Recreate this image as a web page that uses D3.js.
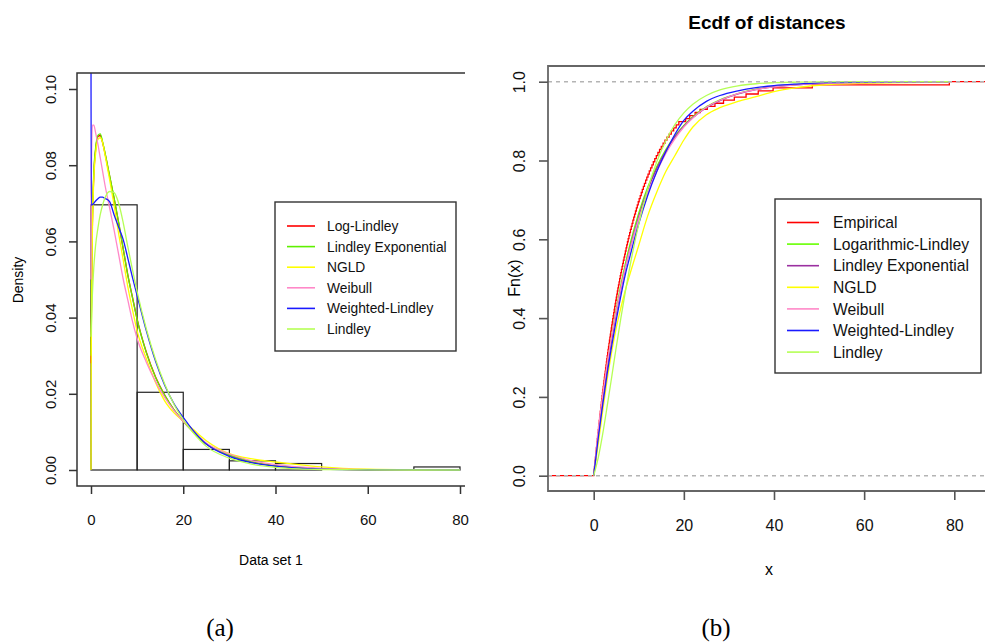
<!DOCTYPE html>
<html>
<head>
<meta charset="utf-8">
<script src="https://cdn.jsdelivr.net/npm/d3@7/dist/d3.min.js"></script>
<style>
    body {margin: 0; background: #fff;}
    svg {display: block; font-family: "Liberation Sans", Arial, sans-serif;}
</style>
</head>
<body>
<svg id="js-chart" width="985" height="642"></svg>
<script>
// ---------- 数据 (a) 直方图 ----------
var histBreaks = [0, 10, 20, 30, 40, 50, 60, 70, 80];
var histDensity = [0.0696, 0.0204, 0.0054, 0.0024, 0.0017, 0, 0, 0.0008];

// 密度曲线取点 (x 共用)
var densX = [0, 0.05, 0.3, 0.6, 1, 1.5, 2, 2.5, 3, 4, 5, 6, 7, 8, 9, 10, 12, 14, 16, 18, 20, 22, 25, 30, 35, 40, 45, 50, 60, 70, 80];
var logLindleyDens = [0.028, 0.038, 0.064, 0.077, 0.084, 0.0875, 0.0878, 0.086, 0.0833, 0.0773, 0.0713, 0.0648, 0.0579, 0.0511, 0.0453, 0.0396, 0.0309, 0.0244, 0.0196, 0.0158, 0.0128, 0.0102, 0.0068, 0.0039, 0.0021, 0.0011, 0.0006, 0.0003, 0.00007, 0.00002, 0];
var lindExpDens = [0.03, 0.04, 0.065, 0.078, 0.0845, 0.0878, 0.0882, 0.0862, 0.0835, 0.0775, 0.0715, 0.065, 0.058, 0.051, 0.0452, 0.0395, 0.0308, 0.0243, 0.0196, 0.0158, 0.0128, 0.0102, 0.0068, 0.0039, 0.0021, 0.0011, 0.0006, 0.0003, 0.00007, 0.00002, 0];
var ngldDens = [0, 0.03, 0.062, 0.076, 0.083, 0.0868, 0.0872, 0.086, 0.083, 0.0765, 0.0695, 0.062, 0.055, 0.048, 0.042, 0.0365, 0.0292, 0.023, 0.0181, 0.015, 0.0128, 0.0108, 0.0077, 0.0043, 0.0029, 0.0021, 0.0014, 0.0008, 0.0002, 0.00005, 0.00001];
var weibullDens = [0.05, 0.075, 0.0905, 0.0905, 0.0885, 0.0855, 0.082, 0.0785, 0.075, 0.069, 0.063, 0.0565, 0.05, 0.0445, 0.039, 0.0345, 0.0283, 0.0232, 0.019, 0.0156, 0.0128, 0.0104, 0.0071, 0.0042, 0.0024, 0.0014, 0.0008, 0.0004, 0.0001, 0.00003, 0.00001];
var wLindleyDens = [0.11, 0.0695, 0.0696, 0.07, 0.0706, 0.0712, 0.0716, 0.0716, 0.0713, 0.0705, 0.067, 0.0637, 0.0604, 0.0555, 0.0505, 0.0458, 0.0365, 0.0285, 0.0222, 0.0174, 0.0138, 0.0106, 0.0068, 0.0036, 0.0019, 0.001, 0.0005, 0.00025, 0.00006, 0.00001, 0];
var lindleyDens = [0.035, 0.037, 0.046, 0.053, 0.059, 0.0635, 0.067, 0.0695, 0.0713, 0.0731, 0.0728, 0.07, 0.0648, 0.0585, 0.0525, 0.0468, 0.037, 0.029, 0.0225, 0.0172, 0.0132, 0.01, 0.0062, 0.0031, 0.0015, 0.0007, 0.0003, 0.00013, 0.00002, 0, 0];

var legendA = ["Log-Lindley", "Lindley Exponential", "NGLD", "Weibull", "Weighted-Lindley", "Lindley"];
var colorsA = ["#ff0000", "#5ef000", "#ffff00", "#ff88c8", "#1a1aff", "#b5ff55"];

// ---------- 数据 (b) 经验分布 ----------
var distances = [
    0.03, 0.10, 0.17, 0.22, 0.30, 0.38, 0.45, 0.51, 0.58, 0.65,
    0.72, 0.80, 0.86, 0.94, 1.01, 1.08, 1.16, 1.23, 1.31, 1.39,
    1.46, 1.54, 1.62, 1.70, 1.78, 1.86, 1.94, 2.03, 2.11, 2.20,
    2.28, 2.37, 2.46, 2.55, 2.64, 2.73, 2.82, 2.91, 3.00, 3.10,
    3.19, 3.29, 3.39, 3.49, 3.59, 3.69, 3.79, 3.90, 4.00, 4.11,
    4.22, 4.33, 4.44, 4.55, 4.66, 4.77, 4.89, 5.01, 5.13, 5.25,
    5.37, 5.50, 5.63, 5.76, 5.89, 6.02, 6.16, 6.30, 6.44, 6.58,
    6.73, 6.88, 7.03, 7.18, 7.33, 7.49, 7.65, 7.82, 7.98, 8.15,
    8.33, 8.51, 8.69, 8.88, 9.07, 9.27, 9.47, 9.67, 9.88,
    10.09, 10.32, 10.55, 10.78, 11.02, 11.26, 11.52, 11.78, 12.05, 12.33,
    12.62, 12.92, 13.23, 13.55, 13.89, 14.24, 14.61, 14.99, 15.40, 15.81,
    16.25, 16.72, 17.21, 17.74, 18.30, 18.89,
    20.4, 21.3, 22.5, 23.6, 25.2, 26.9, 28.8,
    31.2, 33.8, 36.5, 39.8, 48.5, 78.9
];

// 拟合分布函数取点 (x 共用)
var cdfX = [0, 1, 2, 3, 4, 5, 6, 7, 8, 10, 12, 14, 16, 18, 20, 22, 25, 28, 32, 36, 40, 45, 50, 60, 79];
var logLindleyCdf = [0, 0.104, 0.197, 0.281, 0.356, 0.423, 0.483, 0.537, 0.585, 0.667, 0.733, 0.785, 0.828, 0.862, 0.889, 0.911, 0.936, 0.954, 0.970, 0.981, 0.988, 0.993, 0.996, 0.9986, 0.9998];
var lindExpCdf = [0, 0.100, 0.190, 0.272, 0.346, 0.412, 0.472, 0.526, 0.575, 0.658, 0.726, 0.780, 0.824, 0.859, 0.887, 0.909, 0.934, 0.952, 0.969, 0.980, 0.987, 0.992, 0.995, 0.998, 0.9997];
var ngldCdf = [0, 0.080, 0.165, 0.245, 0.315, 0.375, 0.425, 0.470, 0.510, 0.585, 0.660, 0.720, 0.772, 0.812, 0.852, 0.885, 0.916, 0.934, 0.950, 0.962, 0.975, 0.985, 0.991, 0.996, 0.999];
var weibullCdf = [0, 0.115, 0.205, 0.285, 0.355, 0.418, 0.475, 0.527, 0.572, 0.652, 0.718, 0.772, 0.818, 0.855, 0.885, 0.908, 0.935, 0.953, 0.970, 0.980, 0.987, 0.992, 0.995, 0.998, 0.9995];
var wLindleyCdf = [0, 0.095, 0.180, 0.260, 0.330, 0.395, 0.455, 0.510, 0.555, 0.640, 0.712, 0.772, 0.822, 0.866, 0.902, 0.925, 0.950, 0.965, 0.977, 0.985, 0.990, 0.994, 0.997, 0.999, 1.0];
var lindleyCdf = [0, 0.045, 0.106, 0.177, 0.251, 0.326, 0.398, 0.466, 0.529, 0.639, 0.728, 0.797, 0.850, 0.891, 0.921, 0.943, 0.965, 0.979, 0.9895, 0.9948, 0.9974, 0.9988, 0.9995, 0.99995, 1.0];

var legendB = ["Empirical", "Logarithmic-Lindley", "Lindley Exponential", "NGLD", "Weibull", "Weighted-Lindley", "Lindley"];
var colorsB = ["#ff0000", "#66ff00", "#9b30a0", "#ffff00", "#ff88c8", "#1a1aff", "#b5ff55"];

var svg = d3.select("#js-chart");

function zip(xs, ys) {
    return xs.map(function (x, i) {
        return [x, ys[i]];
    });
}

function legend(opt) {
    var g = svg.append("g");
    g.append("rect")
        .attr("x", opt.x).attr("y", opt.y)
        .attr("width", opt.w).attr("height", opt.h)
        .attr("fill", "#fff").attr("stroke", "#333").attr("stroke-width", 1.4);
    opt.names.forEach(function (name, i) {
        var cy = opt.y0 + i * opt.step;
        g.append("line")
            .attr("x1", opt.x + opt.l1).attr("x2", opt.x + opt.l2)
            .attr("y1", cy).attr("y2", cy)
            .attr("stroke", opt.colors[i]).attr("stroke-width", 1.6);
        g.append("text")
            .attr("x", opt.x + opt.tx).attr("y", cy + opt.size * 0.36)
            .attr("font-size", opt.size).attr("fill", "#111")
            .text(name);
    });
}

// ---------- (a) 直方图 + 密度 ----------
function drawPanelA() {
    var x = d3.scaleLinear().domain([0, 80]).range([91, 460]);
    var y = d3.scaleLinear().domain([0, 0.1]).range([470, 89]);

    svg.append("clipPath").attr("id", "clipA")
        .append("rect").attr("x", 77).attr("y", 73).attr("width", 388).attr("height", 413);

    svg.append("g").selectAll("rect")
        .data(histDensity)
        .join("rect")
        .attr("x", function (d, i) { return x(histBreaks[i]); })
        .attr("width", function (d, i) { return x(histBreaks[i + 1]) - x(histBreaks[i]); })
        .attr("y", function (d) { return y(d); })
        .attr("height", function (d) { return y(0) - y(d); })
        .attr("fill", "none").attr("stroke", "#222").attr("stroke-width", 1.2);

    var line = d3.line()
        .x(function (d) { return x(d[0]); })
        .y(function (d) { return y(d[1]); })
        .curve(d3.curveMonotoneX);

    var series = [logLindleyDens, lindExpDens, ngldDens, weibullDens, wLindleyDens, lindleyDens];
    svg.append("g").attr("clip-path", "url(#clipA)")
        .selectAll("path")
        .data(series)
        .join("path")
        .attr("d", function (d) { return line(zip(densX, d)); })
        .attr("fill", "none")
        .attr("stroke", function (d, i) { return colorsA[i]; })
        .attr("stroke-width", 1.3);

    // 边框 (左, 下, 上)
    svg.append("path")
        .attr("d", "M465,73H77V486H465")
        .attr("fill", "none").attr("stroke", "#333").attr("stroke-width", 1.5);

    var ax = svg.append("g")
        .attr("transform", "translate(0,486)")
        .call(d3.axisBottom(x).tickValues([0, 20, 40, 60, 80]).tickSize(8).tickPadding(20));
    var ay = svg.append("g")
        .attr("transform", "translate(77,0)")
        .call(d3.axisLeft(y).tickValues([0, 0.02, 0.04, 0.06, 0.08, 0.10])
            .tickFormat(d3.format(".2f")).tickSize(8));
    [ax, ay].forEach(function (a) {
        a.select(".domain").remove();
        a.selectAll("line").attr("stroke", "#333").attr("stroke-width", 1.5);
        a.selectAll("text").attr("font-size", 15).attr("fill", "#111")
            .attr("font-family", "Liberation Sans, Arial, sans-serif");
    });
    ay.selectAll("text")
        .attr("x", null).attr("dy", null)
        .attr("text-anchor", "middle")
        .attr("transform", "translate(-21,0) rotate(-90)");

    svg.append("text")
        .attr("x", 271).attr("y", 565).attr("text-anchor", "middle")
        .attr("font-size", 14).text("Data set 1");
    svg.append("text")
        .attr("transform", "translate(23,280) rotate(-90)").attr("text-anchor", "middle")
        .attr("font-size", 14).text("Density");

    legend({
        x: 275, y: 202, w: 181, h: 149, y0: 226, step: 20.6,
        l1: 12, l2: 40, tx: 52, size: 13.8,
        names: legendA, colors: colorsA
    });

    svg.append("text")
        .attr("x", 220).attr("y", 636).attr("text-anchor", "middle")
        .attr("font-family", "Liberation Serif, Times New Roman, serif")
        .attr("font-size", 25).text("(a)");
}

// ---------- (b) 经验分布函数 ----------
function drawPanelB() {
    var x = d3.scaleLinear().domain([0, 80]).range([593.7, 954.3]);
    var y = d3.scaleLinear().domain([0, 1]).range([475.7, 81.7]);
    var left = x.invert(548), right = x.invert(990);

    svg.append("clipPath").attr("id", "clipB")
        .append("rect").attr("x", 548).attr("y", 66).attr("width", 442).attr("height", 425);

    var plot = svg.append("g").attr("clip-path", "url(#clipB)");

    // 经验阶梯
    var n = distances.length;
    var steps = [[left, 0]];
    distances.slice().sort(d3.ascending).forEach(function (v, i) {
        steps.push([v, (i + 1) / n]);
    });
    steps.push([right, 1]);

    var stepLine = d3.line()
        .x(function (d) { return x(d[0]); })
        .y(function (d) { return y(d[1]); })
        .curve(d3.curveStepAfter);
    plot.append("path")
        .attr("d", stepLine(steps))
        .attr("fill", "none").attr("stroke", colorsB[0]).attr("stroke-width", 1.3);

    var line = d3.line()
        .x(function (d) { return x(d[0]); })
        .y(function (d) { return y(d[1]); })
        .curve(d3.curveMonotoneX);
    var fits = [logLindleyCdf, lindExpCdf, ngldCdf, weibullCdf, wLindleyCdf, lindleyCdf];
    plot.selectAll("path.fit")
        .data(fits)
        .join("path")
        .attr("class", "fit")
        .attr("d", function (d) { return line(zip(cdfX, d)); })
        .attr("fill", "none")
        .attr("stroke", function (d, i) { return colorsB[i + 1]; })
        .attr("stroke-width", 1.3);

    // 0 与 1 的虚线 (盖住红线两端)
    plot.selectAll("line.ref")
        .data([0, 1])
        .join("line")
        .attr("class", "ref")
        .attr("x1", 548).attr("x2", 990)
        .attr("y1", function (d) { return y(d); })
        .attr("y2", function (d) { return y(d); })
        .attr("stroke", "#b4b4b4").attr("stroke-width", 1.6)
        .attr("stroke-dasharray", "4,4");

    svg.append("path")
        .attr("d", "M990,66H548V491H990")
        .attr("fill", "none").attr("stroke", "#666").attr("stroke-width", 1.8);

    var ax = svg.append("g")
        .attr("transform", "translate(0,491)")
        .call(d3.axisBottom(x).tickValues([0, 20, 40, 60, 80]).tickSize(9).tickPadding(20));
    var ay = svg.append("g")
        .attr("transform", "translate(548,0)")
        .call(d3.axisLeft(y).tickValues([0, 0.2, 0.4, 0.6, 0.8, 1.0])
            .tickFormat(d3.format(".1f")).tickSize(9));
    [ax, ay].forEach(function (a) {
        a.select(".domain").remove();
        a.selectAll("line").attr("stroke", "#555").attr("stroke-width", 1.6);
        a.selectAll("text").attr("font-size", 16).attr("fill", "#111")
            .attr("font-family", "Liberation Sans, Arial, sans-serif");
    });
    ay.selectAll("text")
        .attr("x", null).attr("dy", null)
        .attr("text-anchor", "middle")
        .attr("transform", "translate(-23,0) rotate(-90)");

    svg.append("text")
        .attr("x", 769).attr("y", 575).attr("text-anchor", "middle")
        .attr("font-size", 16).text("x");
    svg.append("text")
        .attr("transform", "translate(520,278) rotate(-90)").attr("text-anchor", "middle")
        .attr("font-size", 16).text("Fn(x)");
    svg.append("text")
        .attr("x", 767).attr("y", 29).attr("text-anchor", "middle")
        .attr("font-size", 19).attr("font-weight", "bold").text("Ecdf of distances");

    legend({
        x: 775, y: 199, w: 206, h: 174, y0: 222.5, step: 21.6,
        l1: 12, l2: 44, tx: 58, size: 15.7,
        names: legendB, colors: colorsB
    });

    svg.append("text")
        .attr("x", 716).attr("y", 636).attr("text-anchor", "middle")
        .attr("font-family", "Liberation Serif, Times New Roman, serif")
        .attr("font-size", 25).text("(b)");
}

drawPanelA();
drawPanelB();
</script>
</body>
</html>
